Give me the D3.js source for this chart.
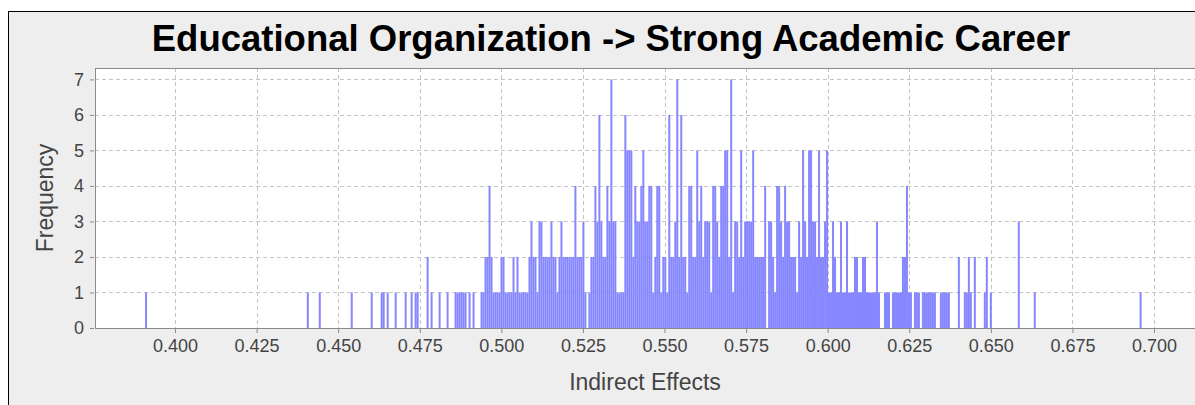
<!DOCTYPE html>
<html>
<head>
<meta charset="utf-8">
<script src="https://cdn.jsdelivr.net/npm/d3@7"></script>
<style>
  body { margin: 0; background: #ffffff; }
  svg { display: block; }
  text { font-family: "Liberation Sans", Arial, sans-serif; }
</style>
</head>
<body>
<script>
var width = 1195
var height = 405

var title = "Educational Organization -> Strong Academic Career"
var xLabel = "Indirect Effects"
var yLabel = "Frequency"

// histogram bins: 500 bins from the smallest to the largest value
var binStart = 0.39081
var binWidth = 0.000612
var xTicks = [0.400, 0.425, 0.450, 0.475, 0.500, 0.525, 0.550, 0.575, 0.600, 0.625, 0.650, 0.675, 0.700]
var yTicks = [0, 1, 2, 3, 4, 5, 6, 7]

// sparse tails: [bin number, frequency]
var lowTail = [[0, 1], [81, 1], [87, 1], [103, 1], [113, 1], [118, 1], [119, 1], [121, 1],
    [125, 1], [130, 1], [133, 1], [135, 1], [136, 1], [141, 2], [143, 1], [147, 1], [151, 1]]
var highTail = [[437, 3], [445, 1], [498, 1]]

// dense middle: frequencies of bins 155 .. 424
var midFirstBin = 155
var midFreq = [
    1, 1, 1, 1, 1, 1, 0, 1, 0, 1, 0, 0, 0, 1, 1, 2, 2, 4, 2, 1,
    1, 1, 1, 2, 2, 1, 1, 1, 1, 2, 1, 2, 1, 1, 1, 1, 1, 2, 3, 2,
    2, 1, 3, 3, 2, 2, 2, 2, 3, 2, 2, 1, 2, 3, 2, 2, 2, 2, 2, 2,
    4, 2, 2, 2, 3, 1, 0, 1, 2, 2, 4, 3, 6, 3, 2, 2, 4, 3, 7, 3,
    3, 1, 1, 1, 1, 6, 5, 5, 5, 2, 4, 3, 3, 4, 5, 3, 3, 4, 4, 1,
    2, 4, 4, 1, 2, 2, 1, 6, 2, 2, 3, 7, 2, 6, 2, 2, 1, 4, 4, 2,
    2, 5, 3, 4, 2, 3, 3, 3, 1, 4, 4, 3, 2, 4, 4, 5, 5, 2, 7, 1,
    3, 3, 2, 5, 2, 3, 3, 3, 3, 5, 2, 2, 2, 2, 2, 4, 0, 3, 3, 2,
    1, 4, 4, 3, 2, 4, 3, 3, 2, 2, 2, 1, 3, 2, 5, 3, 2, 5, 5, 3,
    3, 2, 5, 2, 2, 3, 5, 1, 1, 3, 2, 1, 1, 3, 1, 1, 3, 1, 1, 1,
    2, 2, 1, 1, 2, 2, 1, 1, 1, 1, 1, 3, 1, 0, 0, 1, 1, 1, 0, 1,
    1, 1, 1, 1, 2, 2, 4, 1, 1, 0, 1, 1, 1, 0, 1, 1, 1, 1, 1, 1,
    1, 0, 0, 1, 1, 1, 1, 1, 0, 0, 0, 0, 2, 0, 0, 1, 1, 2, 1, 0,
    2, 0, 0, 0, 0, 1, 2, 0, 1, 0
]

var bins = lowTail.concat(midFreq.map(function (f, i) { return [midFirstBin + i, f] }), highTail)
    .filter(function (d) { return d[1] > 0 })

var plot = { left: 95, top: 68, right: 1195, bottom: 328 }

var x = d3.scaleLinear().domain([0.37548, 0.71256]).range([plot.left, plot.right])
var y = d3.scaleLinear().domain([0, 7.32]).range([plot.bottom, plot.top])

var svg = d3.select("body")
    .append("svg")
    .attr("width", width)
    .attr("height", height)

// chart panel
svg.append("rect")
    .attr("x", 8.5)
    .attr("y", 11.5)
    .attr("width", width + 10)
    .attr("height", height + 10)
    .attr("fill", "#eeeeee")
    .attr("stroke", "#000000")

svg.append("text")
    .attr("x", 611)
    .attr("y", 51)
    .attr("text-anchor", "middle")
    .style("font-size", "36.5px")
    .style("font-weight", "bold")
    .attr("fill", "#000000")
    .text(title)

svg.append("rect")
    .attr("x", plot.left)
    .attr("y", plot.top)
    .attr("width", plot.right - plot.left)
    .attr("height", plot.bottom - plot.top)
    .attr("fill", "#ffffff")

// grid
var grid = svg.append("g").attr("class", "grid")
grid.selectAll(".gx")
    .data(xTicks)
    .enter()
    .append("line")
    .attr("x1", function (d) { return Math.round(x(d)) + 0.5 })
    .attr("x2", function (d) { return Math.round(x(d)) + 0.5 })
    .attr("y1", plot.top)
    .attr("y2", plot.bottom)
grid.selectAll(".gy")
    .data(yTicks.slice(1))
    .enter()
    .append("line")
    .attr("y1", function (d) { return Math.round(y(d)) + 0.5 })
    .attr("y2", function (d) { return Math.round(y(d)) + 0.5 })
    .attr("x1", plot.left)
    .attr("x2", plot.right)
grid.selectAll("line")
    .attr("stroke", "#c4c4c4")
    .attr("stroke-width", 1)
    .attr("stroke-dasharray", "4,3")

// bars
svg.append("g")
    .selectAll("rect")
    .data(bins)
    .enter()
    .append("rect")
    .attr("x", function (d) { return x(binStart + d[0] * binWidth) })
    .attr("width", function (d) { return x(binStart + (d[0] + 1) * binWidth) - x(binStart + d[0] * binWidth) })
    .attr("y", function (d) { return y(d[1]) })
    .attr("height", function (d) { return y(0) - y(d[1]) })
    .attr("fill", "#7f7fff")
    .attr("fill-opacity", 0.95)

// plot outline
svg.append("rect")
    .attr("x", plot.left + 0.5)
    .attr("y", plot.top + 0.5)
    .attr("width", plot.right - plot.left)
    .attr("height", plot.bottom - plot.top)
    .attr("fill", "none")
    .attr("stroke", "#8a8a8a")

// axes
var xAxis = svg.append("g")
    .attr("transform", "translate(0," + (plot.bottom + 1) + ")")
    .call(d3.axisBottom(x).tickValues(xTicks).tickFormat(d3.format(".3f")).tickSize(4).tickPadding(6))
var yAxis = svg.append("g")
    .attr("transform", "translate(" + (plot.left - 1) + ",0)")
    .call(d3.axisLeft(y).tickValues(yTicks).tickFormat(d3.format("d")).tickSize(4).tickPadding(6))

svg.selectAll(".domain").remove()
svg.selectAll(".tick line").attr("stroke", "#8a8a8a")
svg.selectAll(".tick text")
    .attr("fill", "#444444")
    .style("font-size", "18px")
    .style("font-family", "\"Liberation Sans\", Arial, sans-serif")

svg.append("text")
    .attr("x", 645)
    .attr("y", 390)
    .attr("text-anchor", "middle")
    .style("font-size", "23px")
    .attr("fill", "#444444")
    .text(xLabel)

svg.append("text")
    .attr("transform", "translate(53,198) rotate(-90)")
    .attr("text-anchor", "middle")
    .style("font-size", "23px")
    .attr("fill", "#444444")
    .text(yLabel)
</script>
</body>
</html>
